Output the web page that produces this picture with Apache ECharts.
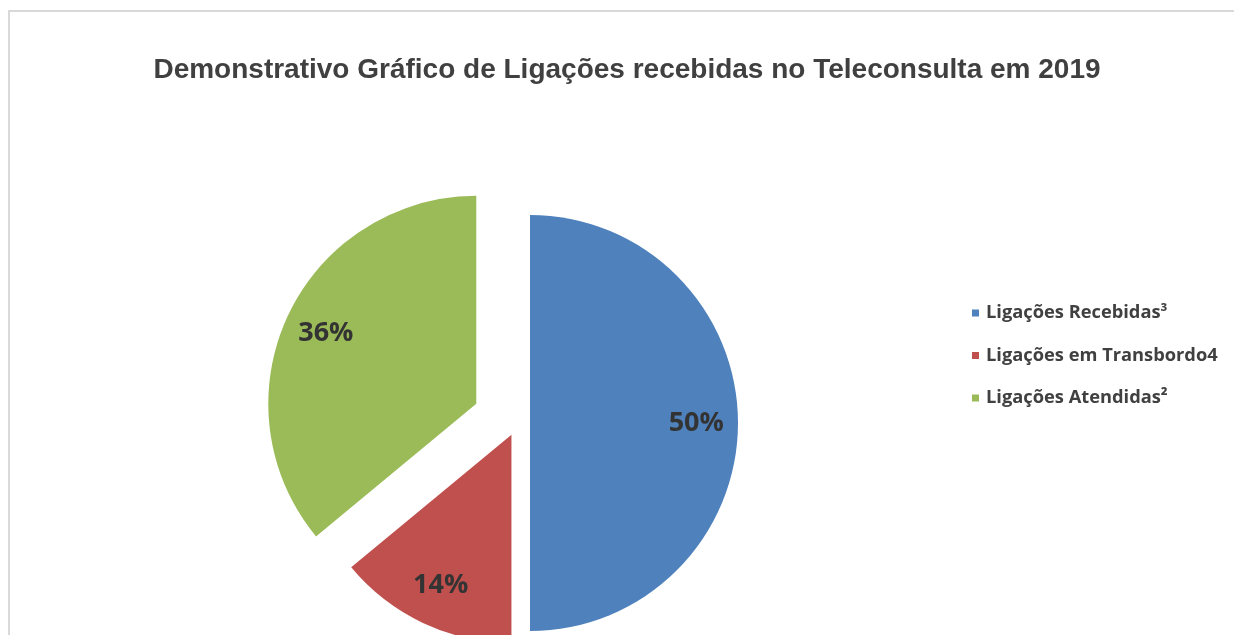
<!DOCTYPE html>
<html>
<head>
<meta charset="utf-8">
<script src="https://cdn.jsdelivr.net/npm/echarts@6/dist/echarts.min.js"></script>
<style>
  html, body { margin: 0; padding: 0; background: #fff; }
  #frame {
    position: absolute; left: 8px; top: 10px; right: 0; bottom: 0;
    border-left: 2px solid #d9d9d9; border-top: 2px solid #d9d9d9;
  }
  #chart { position: absolute; left: 0; top: 0; width: 1234px; height: 635px; }
</style>
</head>
<body>
<div id="frame"></div>
<div id="chart"></div>
<script>
// dados do gráfico
const categorias = ['Ligações Recebidas³', 'Ligações em Transbordo4', 'Ligações Atendidas²'];
const percentuais = [50, 14, 36];
const cores = ['#4f81bd', '#c0504d', '#9bbb59'];
// deslocamento (explosão) de cada fatia
const explosao = [13, 13, 45];

const centro = [517, 423];
const raio = 208;

// uma série por valor de explosão; a outra série só ocupa o ângulo (transparente)
function serieFatias(offset, comLabel) {
  return {
    type: 'pie',
    center: centro,
    radius: comLabel ? [raio * 0.57, raio] : [0, raio],
    startAngle: 90,
    clockwise: true,
    selectedMode: 'multiple',
    selectedOffset: offset,
    silent: true,
    animation: false,
    emphasis: { disabled: true },
    labelLine: { show: false },
    data: categorias.map((nome, i) => {
      const visivel = explosao[i] === offset;
      return {
        name: nome,
        value: percentuais[i],
        selected: true,
        itemStyle: { color: (visivel && !comLabel) ? cores[i] : 'rgba(0,0,0,0)' },
        label: {
          show: visivel && comLabel,
          position: 'inside',
          formatter: '{c}%',
          color: '#333',
          fontSize: 27,
          fontWeight: 'bold',
          fontFamily: 'Open Sans'
        }
      };
    })
  };
}

const offsets = [...new Set(explosao)];
const series = [];
offsets.forEach(o => series.push(serieFatias(o, false)));
offsets.forEach(o => series.push(serieFatias(o, true)));

const chart = echarts.init(document.getElementById('chart'));
chart.setOption({
  animation: false,
  title: {
    text: 'Demonstrativo Gráfico de Ligações recebidas no Teleconsulta em 2019',
    left: 622,
    textAlign: 'center',
    top: 51,
    textStyle: { fontFamily: 'Liberation Sans', fontSize: 28, fontWeight: 'bold', color: '#404040' }
  },
  legend: {
    orient: 'vertical',
    left: 967,
    top: 299,
    icon: 'rect',
    itemWidth: 7,
    itemHeight: 7,
    itemGap: 24.5,
    selectedMode: false,
    textStyle: { fontFamily: 'Open Sans', fontSize: 18.3, fontWeight: 'bold', color: '#404040', padding: [0, 0, 0, 2] },
    data: categorias.map((nome, i) => ({ name: nome, itemStyle: { color: cores[i] } }))
  },
  series: series
});
</script>
</body>
</html>
